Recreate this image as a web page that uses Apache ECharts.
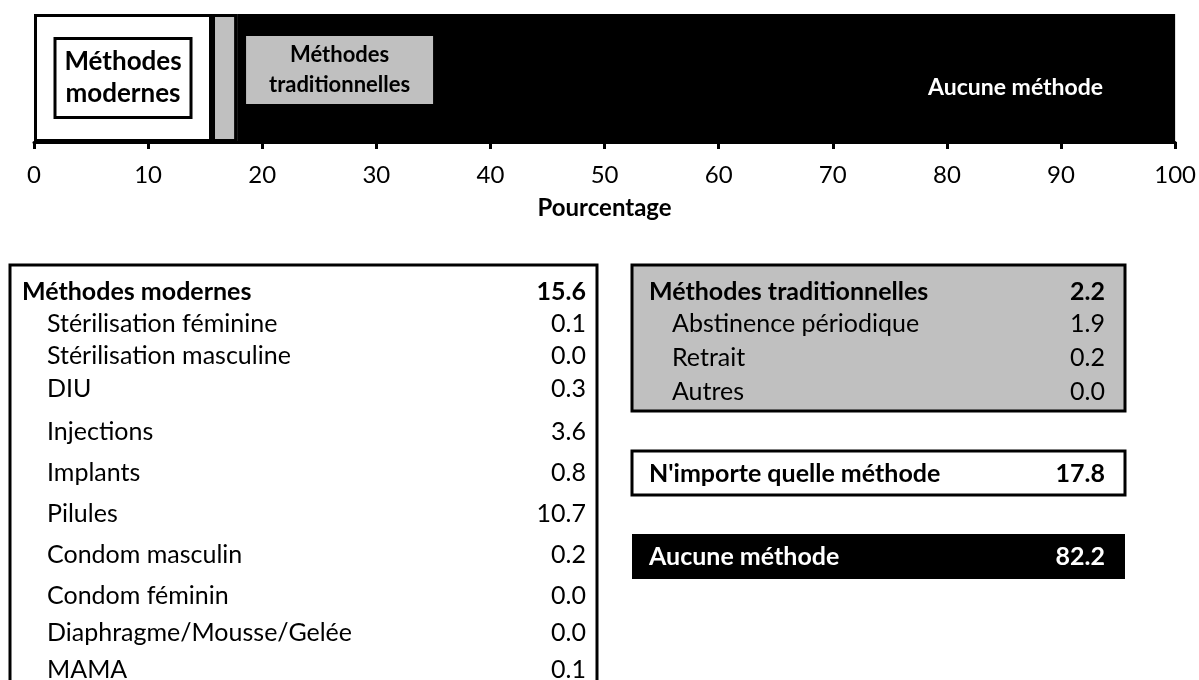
<!DOCTYPE html>
<html>
<head>
<meta charset="utf-8">
<script src="https://cdn.jsdelivr.net/npm/echarts@6/dist/echarts.min.js"></script>
<style>
  html, body { margin: 0; padding: 0; background: #fff; }
  #chart { width: 1199px; height: 680px; }
</style>
</head>
<body>
<div id="chart"></div>
<script>
// barre du haut
var barNames = ['Méthodes modernes', 'Méthodes traditionnelles', 'Aucune méthode'];
var barValues = [15.6, 2.2, 82.2];
var xTicks = [0, 10, 20, 30, 40, 50, 60, 70, 80, 90, 100];

// tableaux
var modernLabels = ['Méthodes modernes', 'Stérilisation féminine', 'Stérilisation masculine', 'DIU',
    'Injections', 'Implants', 'Pilules', 'Condom masculin', 'Condom féminin',
    'Diaphragme/Mousse/Gelée', 'MAMA'];
var modernValues = [15.6, 0.1, 0.0, 0.3, 3.6, 0.8, 10.7, 0.2, 0.0, 0.0, 0.1];
var tradLabels = ['Méthodes traditionnelles', 'Abstinence périodique', 'Retrait', 'Autres'];
var tradValues = [2.2, 1.9, 0.2, 0.0];
var anyLabel = "N'importe quelle méthode";
var anyValue = 17.8;
var noneLabel = 'Aucune méthode';
var noneValue = 82.2;

var FONT = 'Lato, "Open Sans", sans-serif';
var myChart = echarts.init(document.getElementById('chart'));

var modernRowsY = [292, 324, 356, 389, 432, 473, 514, 555, 596, 633, 670];
var tradRowsY = [292, 324, 358, 392];

function txt(x, y, s, opts) {
    opts = opts || {};
    return {
        type: 'text', x: x, y: y, z: 10,
        style: {
            text: s,
            fill: opts.color || '#000',
            font: (opts.bold ? 'bold ' : '') + (opts.size || 25) + 'px ' + FONT,
            textAlign: opts.align || 'left',
            textVerticalAlign: 'middle'
        }
    };
}
function box(x, y, w, h, fill) {
    return {
        type: 'rect', z: 5,
        shape: { x: x, y: y, width: w, height: h },
        style: { fill: fill, stroke: '#000', lineWidth: 3 }
    };
}

var graphics = [];
graphics.push(box(10, 265, 587, 440, '#fff'));
modernLabels.forEach(function (name, i) {
    var head = i === 0;
    graphics.push(txt(head ? 22 : 47, modernRowsY[i], name, { bold: head }));
    graphics.push(txt(586, modernRowsY[i], modernValues[i].toFixed(1), { bold: head, align: 'right' }));
});
graphics.push(box(632, 265, 493, 146, '#c0c0c0'));
tradLabels.forEach(function (name, i) {
    var head = i === 0;
    graphics.push(txt(head ? 649 : 672, tradRowsY[i], name, { bold: head }));
    graphics.push(txt(1105, tradRowsY[i], tradValues[i].toFixed(1), { bold: head, align: 'right' }));
});
graphics.push(box(632, 451, 493, 44, '#fff'));
graphics.push(txt(649, 474, anyLabel, { bold: true }));
graphics.push(txt(1105, 474, anyValue.toFixed(1), { bold: true, align: 'right' }));
graphics.push({
    type: 'rect', z: 5,
    shape: { x: 632, y: 534, width: 493, height: 45 },
    style: { fill: '#000' }
});
graphics.push(txt(649, 557, noneLabel, { bold: true, color: '#fff' }));
graphics.push(txt(1105, 557, noneValue.toFixed(1), { bold: true, color: '#fff', align: 'right' }));

var option = {
    animation: false,
    grid: { left: 34, right: 23, top: 14, height: 128 },
    xAxis: {
        type: 'value', min: xTicks[0], max: xTicks[xTicks.length - 1], interval: 10,
        splitLine: { show: false },
        axisLine: { show: true, lineStyle: { color: '#000', width: 3 } },
        axisTick: { show: true, length: 7, lineStyle: { color: '#000', width: 3 } },
        axisLabel: { color: '#000', fontSize: 24, fontFamily: FONT, margin: 21 },
        name: 'Pourcentage', nameLocation: 'middle', nameGap: 54,
        nameTextStyle: { color: '#000', fontSize: 24, fontWeight: 'bold', fontFamily: FONT }
    },
    yAxis: { type: 'category', data: ['Total'], show: false },
    series: [
        {
            name: barNames[0], type: 'bar', stack: 'total', barWidth: '100%',
            data: [barValues[0]],
            itemStyle: { color: '#fff', borderColor: '#000', borderWidth: 3 },
            label: {
                show: true, position: 'inside', formatter: 'Méthodes\nmodernes',
                color: '#000', fontFamily: FONT, fontWeight: 'bold', fontSize: 26, lineHeight: 32,
                width: 121, align: 'center',
                backgroundColor: '#fff', borderColor: '#000', borderWidth: 3, padding: [6, 6]
            }
        },
        {
            name: barNames[1], type: 'bar', stack: 'total', barWidth: '100%',
            data: [barValues[1]],
            itemStyle: { color: '#c0c0c0', borderColor: '#000', borderWidth: 3 },
            label: {
                show: true, position: 'inside', formatter: 'Méthodes\ntraditionnelles',
                color: '#000', fontFamily: FONT, fontWeight: 'bold', fontSize: 22, lineHeight: 30,
                width: 177, align: 'center', offset: [115, -8],
                backgroundColor: '#c0c0c0', padding: [4, 5]
            }
        },
        {
            name: barNames[2], type: 'bar', stack: 'total', barWidth: '100%',
            data: [barValues[2]],
            itemStyle: { color: '#000' },
            label: {
                show: true, position: 'insideRight', distance: 72, offset: [0, 10],
                formatter: '{a}', color: '#fff', fontFamily: FONT, fontWeight: 'bold', fontSize: 23
            }
        }
    ],
    graphic: graphics
};
myChart.setOption(option);
</script>
</body>
</html>
